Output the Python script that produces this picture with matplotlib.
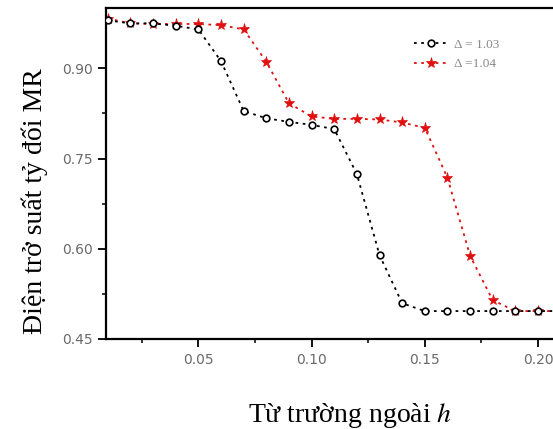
import matplotlib.pyplot as plt
import numpy as np

h = [0.01, 0.02, 0.03, 0.04, 0.05, 0.06, 0.07, 0.08, 0.09, 0.10, 0.11,
     0.12, 0.13, 0.14, 0.15, 0.16, 0.17, 0.18, 0.19, 0.20, 0.21]
mr_103 = [0.980, 0.975, 0.975, 0.971, 0.965, 0.912, 0.829, 0.817, 0.811, 0.806, 0.799,
          0.724, 0.589, 0.509, 0.496, 0.496, 0.496, 0.496, 0.496, 0.496, 0.496]
mr_104 = [0.983, 0.975, 0.974, 0.974, 0.974, 0.972, 0.965, 0.911, 0.842, 0.820, 0.816,
          0.816, 0.815, 0.810, 0.801, 0.718, 0.588, 0.514, 0.496, 0.496, 0.496]
labels = ['Δ = 1.03', 'Δ =1.04']

plt.rcParams['mathtext.fontset'] = 'stix'

fig = plt.figure(figsize=(5.53, 4.29), dpi=100)
# axes runs past the right edge of the picture, as in the cropped original
ax = fig.add_axes([0.1917, 0.2105, 0.8836, 0.770])

ax.plot(h, mr_103, color='black', linestyle=(0, (1.5, 2.5)), linewidth=1.3,
        marker='o', markersize=4.8, markerfacecolor='white', markeredgewidth=1.2,
        label=labels[0], zorder=3)
ax.plot(h, mr_104, color='#e01010', linestyle=(0, (1.5, 2.5)), linewidth=1.3,
        marker='*', markersize=8, markeredgewidth=0.5, label=labels[1], zorder=2)

ax.set_xlim(0.0092, 0.225)
ax.set_ylim(0.45, 1.0)
ax.set_xticks([0.05, 0.10, 0.15, 0.20])
ax.set_xticks([0.025, 0.075, 0.125, 0.175], minor=True)
ax.set_yticks([0.45, 0.60, 0.75, 0.90])
ax.set_yticks([0.525, 0.675, 0.825], minor=True)
ax.xaxis.set_major_formatter(plt.FormatStrFormatter('%.2f'))
ax.yaxis.set_major_formatter(plt.FormatStrFormatter('%.2f'))
ax.tick_params(which='major', length=5.5, width=1.3, labelsize=10,
               labelcolor='#6a6a6a')
ax.tick_params(axis='x', which='major', pad=5)
ax.tick_params(axis='y', which='major', pad=4)
ax.tick_params(which='minor', length=3, width=1.1)
for s in ax.spines.values():
    s.set_linewidth(1.6)

ax.set_xlabel('Từ trường ngoài $h$', family='Liberation Serif', fontsize=20)
ax.set_ylabel('Điện trở suất tỷ đối MR', family='Liberation Serif', fontsize=20)
ax.xaxis.set_label_coords(0.5, -0.19)
ax.yaxis.set_label_coords(-0.118, 0.417)

leg = ax.legend(loc='upper left', bbox_to_anchor=(0.605, 0.945), frameon=False,
                handlelength=2.6, labelspacing=0.55, handletextpad=0.5,
                prop={'family': 'Liberation Serif', 'size': 9.5})
for t in leg.get_texts():
    t.set_color('#8a8a8a')

plt.savefig('out.png', dpi=100)
plt.close()
